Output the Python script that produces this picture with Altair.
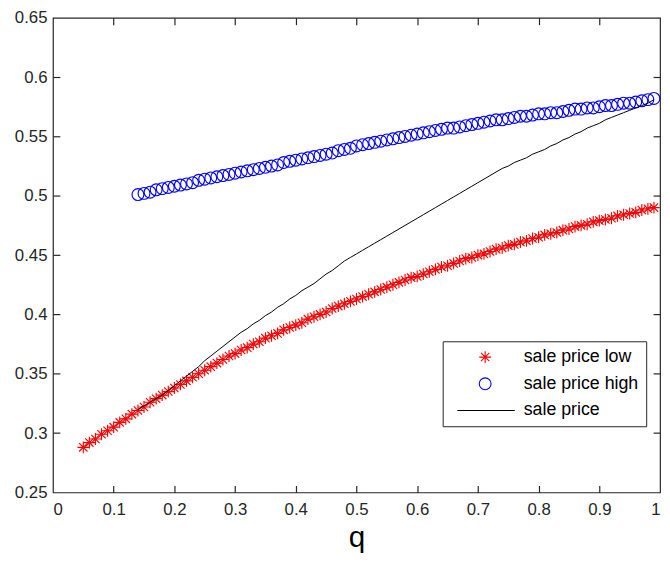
import altair as alt
import pandas as pd

# ---- data ----
q = [0.05, 0.06, 0.07, 0.08, 0.09,
     0.10, 0.11, 0.12, 0.13, 0.14, 0.15, 0.16, 0.17, 0.18, 0.19,
     0.20, 0.21, 0.22, 0.23, 0.24, 0.25, 0.26, 0.27, 0.28, 0.29,
     0.30, 0.31, 0.32, 0.33, 0.34, 0.35, 0.36, 0.37, 0.38, 0.39,
     0.40, 0.41, 0.42, 0.43, 0.44, 0.45, 0.46, 0.47, 0.48, 0.49,
     0.50, 0.51, 0.52, 0.53, 0.54, 0.55, 0.56, 0.57, 0.58, 0.59,
     0.60, 0.61, 0.62, 0.63, 0.64, 0.65, 0.66, 0.67, 0.68, 0.69,
     0.70, 0.71, 0.72, 0.73, 0.74, 0.75, 0.76, 0.77, 0.78, 0.79,
     0.80, 0.81, 0.82, 0.83, 0.84, 0.85, 0.86, 0.87, 0.88, 0.89,
     0.90, 0.91, 0.92, 0.93, 0.94, 0.95, 0.96, 0.97, 0.98, 0.99]

sale_low = [0.288, 0.292, 0.295, 0.299, 0.302,
            0.305, 0.309, 0.312, 0.316, 0.319, 0.322, 0.326, 0.329, 0.332, 0.335,
            0.338, 0.341, 0.344, 0.347, 0.350, 0.353, 0.356, 0.359, 0.362, 0.365,
            0.367, 0.370, 0.372, 0.375, 0.377, 0.380, 0.382, 0.384, 0.387, 0.389,
            0.391, 0.393, 0.396, 0.398, 0.400, 0.402, 0.405, 0.407, 0.409, 0.411,
            0.413, 0.415, 0.417, 0.419, 0.421, 0.423, 0.425, 0.427, 0.429, 0.431,
            0.432, 0.434, 0.436, 0.438, 0.440, 0.441, 0.443, 0.445, 0.447, 0.448,
            0.450, 0.451, 0.453, 0.455, 0.456, 0.458, 0.459, 0.461, 0.462, 0.464,
            0.465, 0.467, 0.468, 0.469, 0.471, 0.472, 0.474, 0.475, 0.476, 0.478,
            0.479, 0.480, 0.481, 0.483, 0.484, 0.485, 0.486, 0.488, 0.489, 0.490]

# high series and sale price start at q = 0.14
q_high = q[9:]
sale_high = [0.501, 0.502, 0.503, 0.505, 0.506, 0.507,
             0.508, 0.509, 0.510, 0.511, 0.513, 0.514, 0.515, 0.516, 0.517, 0.518,
             0.519, 0.520, 0.521, 0.522, 0.523, 0.524, 0.525, 0.526, 0.528, 0.529,
             0.530, 0.531, 0.532, 0.533, 0.534, 0.535, 0.536, 0.538, 0.539, 0.540,
             0.542, 0.543, 0.544, 0.545, 0.546, 0.547, 0.548, 0.549, 0.550, 0.551,
             0.552, 0.553, 0.554, 0.555, 0.556, 0.557, 0.557, 0.558, 0.559, 0.560,
             0.561, 0.562, 0.563, 0.564, 0.564, 0.565, 0.566, 0.567, 0.567, 0.568,
             0.569, 0.569, 0.570, 0.570, 0.571, 0.572, 0.573, 0.573, 0.574, 0.574,
             0.575, 0.576, 0.576, 0.577, 0.578, 0.578, 0.579, 0.580, 0.581, 0.582]

sale_price = [0.320, 0.323, 0.326, 0.329, 0.332, 0.336,
              0.340, 0.344, 0.348, 0.352, 0.356, 0.361, 0.365, 0.369, 0.373, 0.377,
              0.381, 0.385, 0.388, 0.392, 0.395, 0.399, 0.402, 0.406, 0.409, 0.413,
              0.416, 0.420, 0.423, 0.426, 0.430, 0.434, 0.437, 0.441, 0.445, 0.448,
              0.451, 0.454, 0.457, 0.460, 0.463, 0.466, 0.469, 0.472, 0.475, 0.478,
              0.481, 0.484, 0.487, 0.490, 0.493, 0.496, 0.499, 0.502, 0.505, 0.508,
              0.511, 0.514, 0.517, 0.520, 0.523, 0.525, 0.528, 0.530, 0.532, 0.535,
              0.537, 0.539, 0.542, 0.544, 0.547, 0.549, 0.552, 0.554, 0.557, 0.559,
              0.561, 0.564, 0.566, 0.568, 0.570, 0.572, 0.574, 0.576, 0.578, 0.581]

series_names = ["sale price low", "sale price high", "sale price"]
series_colors = ["#ff0000", "#0000ff", "#000000"]

x_ticks = [0, 0.1, 0.2, 0.3, 0.4, 0.5, 0.6, 0.7, 0.8, 0.9, 1]
y_ticks = [0.25, 0.3, 0.35, 0.4, 0.45, 0.5, 0.55, 0.6, 0.65]
x_inner = x_ticks[1:-1]
y_inner = y_ticks[1:-1]

# ---- table ----
df = pd.concat([
    pd.DataFrame({"q": q, "v": sale_low, "series": series_names[0]}),
    pd.DataFrame({"q": q_high, "v": sale_high, "series": series_names[1]}),
    pd.DataFrame({"q": q_high, "v": sale_price, "series": series_names[2]}),
], ignore_index=True)

FONT = "Liberation Sans"
AX = "#262626"
STAR = "M-1,0L1,0M0,-1L0,1M-0.7,-0.7L0.7,0.7M-0.7,0.7L0.7,-0.7"
LINE = "M-4.7,0L5,0"

xs = alt.Scale(domain=[0, 1], nice=False, zero=False)
ys = alt.Scale(domain=[0.25, 0.65], nice=False, zero=False)

legend = alt.Legend(
    title=None, orient="none", legendX=394.5, legendY=327.5, direction="vertical",
    padding=7, strokeColor=AX, fillColor="white", cornerRadius=0,
    labelFont=FONT, labelFontSize=18, labelColor="black",
    rowPadding=9, symbolOffset=27, labelOffset=30,
    symbolSize=144, symbolStrokeWidth=1.1,
)

x_main = alt.X("q:Q", scale=xs, axis=alt.Axis(
    values=x_ticks, format="~g", title="q", grid=False, ticks=False, tickSize=0,
    domain=False, labelPadding=9, labelFont=FONT, labelFontSize=17, labelColor=AX,
    titleFont=FONT, titleFontSize=30, titleFontWeight="normal", titleColor="black",
    titlePadding=6, labelOverlap=False))
y_main = alt.Y("v:Q", scale=ys, axis=alt.Axis(
    values=y_ticks, format="~g", title=None, grid=False, ticks=False, tickSize=0,
    domain=False, labelPadding=6, labelFont=FONT, labelFontSize=17, labelColor=AX,
    labelOverlap=False))

points = alt.Chart(df).transform_filter(
    alt.datum.series != "sale price"
).mark_point(filled=False, size=144, strokeWidth=1.15, opacity=1).encode(
    x=x_main, y=y_main,
    color=alt.Color("series:N", scale=alt.Scale(domain=series_names, range=series_colors), legend=legend),
    shape=alt.Shape("series:N", scale=alt.Scale(domain=series_names, range=[STAR, "circle", LINE]), legend=legend),
    order=alt.Order("q:Q"),
)

line = alt.Chart(df).transform_filter(
    alt.datum.series == "sale price"
).mark_line(color="black", strokeWidth=1).encode(
    x=alt.X("q:Q", scale=xs, axis=None),
    y=alt.Y("v:Q", scale=ys, axis=None),
)

def tick_axis(orient):
    vals = x_inner if orient in ("bottom", "top") else y_inner
    return alt.Axis(orient=orient, offset=-7, tickSize=7, values=vals, labels=False,
                    domain=False, grid=False, title=None, tickColor=AX, tickWidth=1.2)

ticks_a = alt.Chart(df).mark_point(opacity=0).encode(
    x=alt.X("q:Q", scale=xs, axis=tick_axis("bottom")),
    y=alt.Y("v:Q", scale=ys, axis=tick_axis("left")),
)
ticks_b = alt.Chart(df).mark_point(opacity=0).encode(
    x=alt.X("q:Q", scale=xs, axis=tick_axis("top")),
    y=alt.Y("v:Q", scale=ys, axis=tick_axis("right")),
)

chart = alt.layer(points, line, ticks_a, ticks_b).resolve_axis(
    x="independent", y="independent"
).properties(
    width=614.5, height=480.5,
    autosize=alt.AutoSizeParams(type="none"),
    padding={"left": 45.5, "top": 6.5, "right": 2, "bottom": 62},
    background="white",
).configure_view(stroke=AX, strokeWidth=1.2)

chart.save("out.html", embed_options={"renderer": "svg", "actions": False})
